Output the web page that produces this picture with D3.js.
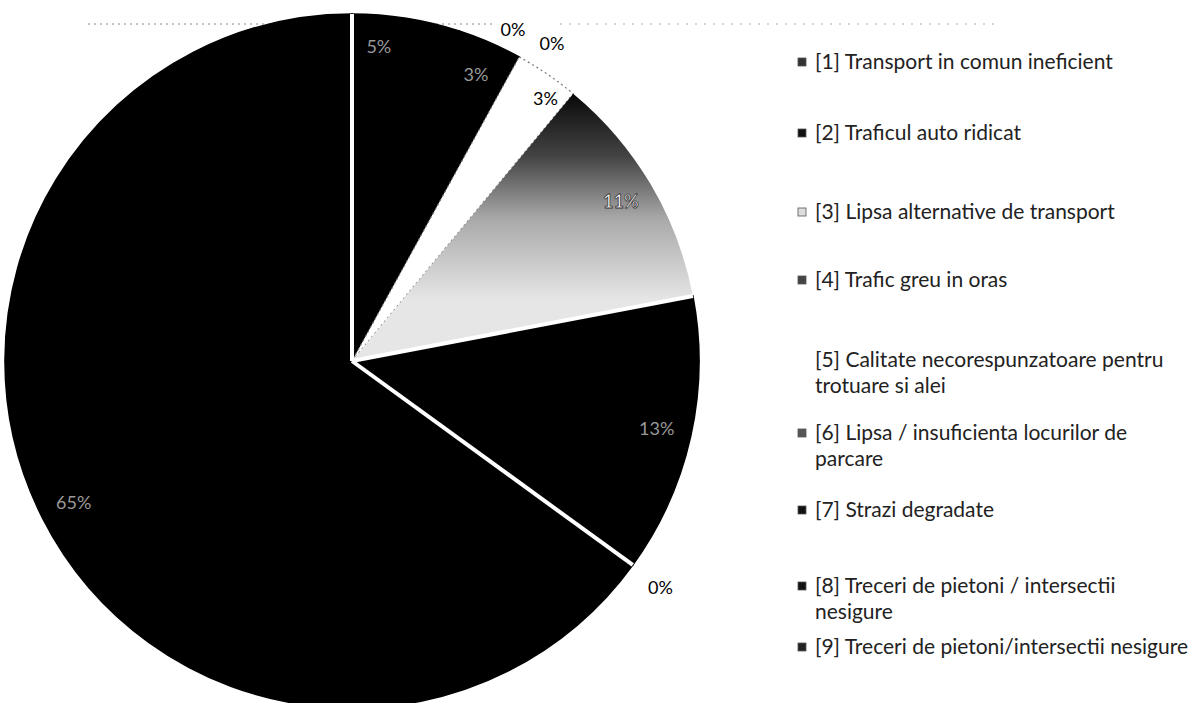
<!DOCTYPE html>
<html>
<head>
<meta charset="utf-8">
<script src="https://cdn.jsdelivr.net/npm/d3@7"></script>
<style>
  body { margin: 0; background: #fff; }
  text { font-family: Lato, "Open Sans", sans-serif; }
</style>
</head>
<body>
<div class="chart"></div>
<script>
// data
const categories = [
    "[1] Transport in comun ineficient",
    "[2] Traficul auto ridicat",
    "[3] Lipsa alternative de transport",
    "[4] Trafic greu in oras",
    "[5] Calitate necorespunzatoare pentru trotuare si alei",
    "[6] Lipsa / insuficienta locurilor de parcare",
    "[7] Strazi degradate",
    "[8] Treceri de pietoni / intersectii nesigure",
    "[9] Treceri de pietoni/intersectii nesigure"
];
const values = [5, 3, 3, 11, 13, 0, 65, 0, 0];
const legendLines = [
    ["[1] Transport in comun ineficient"],
    ["[2] Traficul auto ridicat"],
    ["[3] Lipsa alternative de transport"],
    ["[4] Trafic greu in oras"],
    ["[5] Calitate necorespunzatoare pentru", "trotuare si alei"],
    ["[6] Lipsa / insuficienta locurilor de", "parcare"],
    ["[7] Strazi degradate"],
    ["[8] Treceri de pietoni / intersectii", "nesigure"],
    ["[9] Treceri de pietoni/intersectii nesigure"]
];

// mesures
const size = { width: 1201, height: 703 };
const center = { x: 352, y: 361 };
const radius = 347;

const fills = ["#000", "#000", "#fff", "url(#grad4)", "#000", "#000", "#000", "#000", "#000"];
const legendFills = ["#333", "#111", "#ddd", "#444", "#fff", "#555", "#111", "#111", "#222"];

const svg = d3.select(".chart")
    .append("svg")
    .attr("width", size.width)
    .attr("height", size.height);

const defs = svg.append("defs");
// gradient coordinates are relative to the pie group (centre at 0,0)
const grad = defs.append("linearGradient")
    .attr("id", "grad4")
    .attr("gradientUnits", "userSpaceOnUse")
    .attr("x1", 0).attr("y1", 95 - center.y)
    .attr("x2", 0).attr("y2", 300 - center.y);
grad.append("stop").attr("offset", "0%").attr("stop-color", "#0a0a0a");
grad.append("stop").attr("offset", "30%").attr("stop-color", "#444");
grad.append("stop").attr("offset", "60%").attr("stop-color", "#a8a8a8");
grad.append("stop").attr("offset", "100%").attr("stop-color", "#e6e6e6");

// dotted leader line at the top
svg.append("line")
    .attr("x1", 88).attr("x2", 495)
    .attr("y1", 24).attr("y2", 24)
    .attr("stroke", "#888")
    .attr("stroke-width", 1)
    .attr("stroke-dasharray", "2,4");
svg.append("line")
    .attr("x1", 560).attr("x2", 1000)
    .attr("y1", 24).attr("y2", 24)
    .attr("stroke", "#aaa")
    .attr("stroke-width", 1)
    .attr("stroke-dasharray", "2,7");

const pie = d3.pie().sort(null).value((d) => d);
const arcs = pie(values);
const arc = d3.arc().innerRadius(0).outerRadius(radius);

const g = svg.append("g")
    .attr("transform", `translate(${center.x},${center.y})`);

g.selectAll("path")
    .data(arcs)
    .enter()
    .append("path")
    .attr("d", arc)
    .attr("fill", (d, i) => fills[i])
    .attr("stroke", (d, i) => i === 2 ? "#777" : (i === 3 ? "none" : "#000"))
    .attr("stroke-dasharray", (d, i) => i === 2 ? "2,3" : null)
    .attr("stroke-width", (d, i) => i === 2 ? 1.2 : 1.6);

// white separators between slices
g.selectAll("line.sep")
    .data(arcs.filter((d, i) => [0, 4, 5].includes(i)))
    .enter()
    .append("line")
    .attr("class", "sep")
    .attr("x1", 0).attr("y1", 0)
    .attr("x2", (d) => Math.sin(d.startAngle) * radius)
    .attr("y2", (d) => -Math.cos(d.startAngle) * radius)
    .attr("stroke", "#fff")
    .attr("stroke-width", 4);

// labels
const inside = d3.arc().innerRadius(radius * 0.9).outerRadius(radius * 0.9);
const outside = d3.arc().innerRadius(radius * 1.07).outerRadius(radius * 1.07);
const nudge = {
    0: [-22, -6],
    2: [14, 2],
    5: [8, 8],
    7: [161, 40],
    8: [200, 54]
};

const labelStyle = (i) => {
    if (i === 2 || values[i] === 0) return { fill: "#000", stroke: "none" };
    if (i === 3) return { fill: "#fff", stroke: "#333" };
    return { fill: "#999", stroke: "none" };
};

g.selectAll("text.lbl")
    .data(arcs)
    .enter()
    .append("text")
    .attr("class", "lbl")
    .attr("transform", (d, i) => {
        const gen = (values[i] === 0) ? outside : (i === 2 ? d3.arc().innerRadius(radius * 0.92).outerRadius(radius * 0.92) : inside);
        const c = gen.centroid(d);
        const n = nudge[i] || [0, 0];
        return `translate(${c[0] + n[0]},${c[1] + n[1]})`;
    })
    .attr("text-anchor", "middle")
    .attr("dy", "0.35em")
    .attr("font-size", 18)
    .attr("font-weight", (d, i) => i === 3 ? "bold" : null)
    .attr("fill", (d, i) => labelStyle(i).fill)
    .attr("stroke", (d, i) => labelStyle(i).stroke)
    .attr("stroke-width", 0.8)
    .text((d) => `${d.data}%`);

// legend
const legendTop = [62, 133, 212, 280, 360, 433, 510, 586, 647];
const legend = svg.append("g");
const items = legend.selectAll("g")
    .data(legendLines)
    .enter()
    .append("g")
    .attr("transform", (d, i) => `translate(0,${legendTop[i]})`);

items.append("rect")
    .attr("x", 798)
    .attr("y", -4)
    .attr("width", 8)
    .attr("height", 8)
    .attr("fill", (d, i) => legendFills[i])
    .attr("stroke", (d, i) => i === 4 ? "none" : "#555")
    .attr("stroke-width", 0.8);

items.selectAll("text")
    .data((d) => d)
    .enter()
    .append("text")
    .attr("x", 815)
    .attr("y", (d, j) => j * 26)
    .attr("dy", "0.35em")
    .attr("font-size", 21)
    .attr("fill", "#222")
    .text((d) => d);
</script>
</body>
</html>
